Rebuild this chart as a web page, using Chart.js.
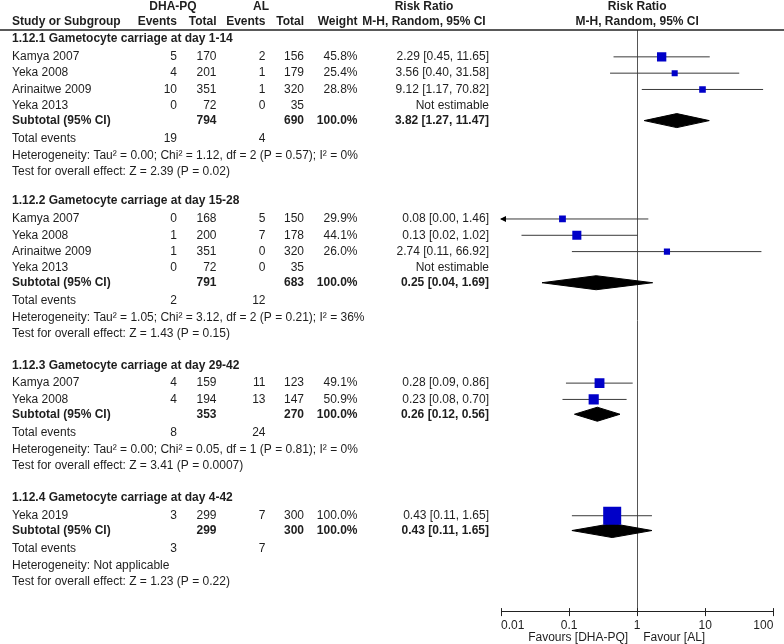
<!DOCTYPE html>
<html>
<head>
<meta charset="utf-8">
<script src="https://cdn.jsdelivr.net/npm/chart.js@4.4.1/dist/chart.umd.min.js"></script>
<style>
  body { margin: 0; background: #fff; }
  #wrap { width: 784px; height: 644px; position: relative; }
</style>
</head>
<body>
<div id="wrap"><canvas id="forest"></canvas></div>
<script>
// ----------- data -----------
const groupTitles = [
    '1.12.1 Gametocyte carriage at day 1-14',
    '1.12.2 Gametocyte carriage at day 15-28',
    '1.12.3 Gametocyte carriage at day 29-42',
    '1.12.4 Gametocyte carriage at day 4-42'
];
const studyGroup = [0, 0, 0, 0, 1, 1, 1, 1, 2, 2, 3];
const studyNames = ['Kamya 2007', 'Yeka 2008', 'Arinaitwe 2009', 'Yeka 2013',
                    'Kamya 2007', 'Yeka 2008', 'Arinaitwe 2009', 'Yeka 2013',
                    'Kamya 2007', 'Yeka 2008',
                    'Yeka 2019'];
const dhaEvents = [5, 4, 10, 0,   0, 1, 1, 0,   4, 4,   3];
const dhaTotal  = [170, 201, 351, 72,   168, 200, 351, 72,   159, 194,   299];
const alEvents  = [2, 1, 1, 0,   5, 7, 0, 0,   11, 13,   7];
const alTotal   = [156, 179, 320, 35,   150, 178, 320, 35,   123, 147,   300];
const weights   = [45.8, 25.4, 28.8, null,   29.9, 44.1, 26.0, null,   49.1, 50.9,   100.0];
const riskRatio = [2.29, 3.56, 9.12, null,   0.08, 0.13, 2.74, null,   0.28, 0.23,   0.43];
const ciLow     = [0.45, 0.40, 1.17, null,   0.00, 0.02, 0.11, null,   0.09, 0.08,   0.11];
const ciHigh    = [11.65, 31.58, 70.82, null,   1.46, 1.02, 66.92, null,   0.86, 0.70,   1.65];

const subDhaTotal = [794, 791, 353, 299];
const subAlTotal  = [690, 683, 270, 300];
const subRR       = [3.82, 0.25, 0.26, 0.43];
const subLow      = [1.27, 0.04, 0.12, 0.11];
const subHigh     = [11.47, 1.69, 0.56, 1.65];
const totalDha    = [19, 2, 8, 3];
const totalAl     = [4, 12, 24, 7];
const heterogeneity = [
    'Heterogeneity: Tau\u00b2 = 0.00; Chi\u00b2 = 1.12, df = 2 (P = 0.57); I\u00b2 = 0%',
    'Heterogeneity: Tau\u00b2 = 1.05; Chi\u00b2 = 3.12, df = 2 (P = 0.21); I\u00b2 = 36%',
    'Heterogeneity: Tau\u00b2 = 0.00; Chi\u00b2 = 0.05, df = 1 (P = 0.81); I\u00b2 = 0%',
    'Heterogeneity: Not applicable'
];
const overallTest = [
    'Test for overall effect: Z = 2.39 (P = 0.02)',
    'Test for overall effect: Z = 1.43 (P = 0.15)',
    'Test for overall effect: Z = 3.41 (P = 0.0007)',
    'Test for overall effect: Z = 1.23 (P = 0.22)'
];
const tickValues = [0.01, 0.1, 1, 10, 100];
const tickLabels = ['0.01', '0.1', '1', '10', '100'];

// ----------- layout (row positions in px) -----------
const groupTop = [39, 201, 365, 497.5];
const rows = { study: [], sub: [], total: [], het: [], test: [] };
groupTop.forEach((top, g) => {
    let y = top + 17.8;
    studyGroup.forEach((sg, i) => {
        if (sg === g) { rows.study[i] = y; y += 16.3; }
    });
    y = y - 16.3 + 14.8;
    rows.sub[g] = y;
    rows.total[g] = y + 18.4;
    rows.het[g] = y + 18.4 + 16.7;
    rows.test[g] = y + 18.4 + 16.7 + 16.3;
});

const X_MIN = 0.01, X_MAX = 100;
const fmt = v => v.toFixed(2);
const ciText = (r, l, h) => `${fmt(r)} [${fmt(l)}, ${fmt(h)}]`;

// ----------- datasets -----------
const squares = { data: [], radius: [] };
riskRatio.forEach((r, i) => {
    if (r === null) return;
    squares.data.push({ x: r, y: rows.study[i] });
    const side = 2 + 0.16 * weights[i];
    squares.radius.push(side / Math.SQRT2);
});

const datasets = [{
    label: 'study',
    data: squares.data,
    pointStyle: 'rect',
    pointRadius: squares.radius,
    backgroundColor: '#0000c8',
    borderWidth: 0,
    order: 0
}];

// diamonds for subtotals
subRR.forEach((r, g) => {
    const y = rows.sub[g];
    datasets.push({
        label: 'subtotal',
        data: [{ x: subLow[g], y: y }, { x: r, y: y - 7 }, { x: subHigh[g], y: y },
               { x: r, y: y + 7 }, { x: subLow[g], y: y }],
        showLine: true,
        fill: 'shape',
        borderColor: '#000',
        backgroundColor: '#000',
        borderWidth: 1,
        pointRadius: 0,
        order: 1
    });
});

// confidence interval whiskers
riskRatio.forEach((r, i) => {
    if (r === null) return;
    datasets.push({
        label: 'ci',
        data: [{ x: Math.max(ciLow[i], X_MIN), y: rows.study[i] },
               { x: Math.min(ciHigh[i], X_MAX), y: rows.study[i] }],
        showLine: true,
        borderColor: '#3a3a3a',
        borderWidth: 1,
        pointRadius: 0,
        order: 2
    });
});

// ----------- text table and extra lines -----------
const FONT = '"Liberation Sans", Arial, sans-serif';
const COL = { name: 12, ev1: 177, tot1: 216.5, ev2: 265.5, tot2: 304, weight: 357.5, rr: 489 };

const forestText = {
    id: 'forestText',
    beforeDatasetsDraw(chart) {
        const ctx = chart.ctx, xs = chart.scales.x, ys = chart.scales.y;
        const x1 = xs.getPixelForValue(1);
        ctx.save();
        ctx.strokeStyle = '#555';
        ctx.lineWidth = 1;
        ctx.beginPath();
        ctx.moveTo(Math.round(x1) + 0.5, ys.getPixelForValue(30));
        ctx.lineTo(Math.round(x1) + 0.5, chart.chartArea.bottom);
        ctx.stroke();
        ctx.restore();
    },
    afterDraw(chart) {
        const ctx = chart.ctx, xs = chart.scales.x, ys = chart.scales.y;
        const put = (s, x, y, align, bold) => {
            ctx.font = (bold ? 'bold ' : '') + '12px ' + FONT;
            ctx.textAlign = align;
            ctx.fillText(s, x, ys.getPixelForValue(y));
        };
        ctx.save();
        ctx.fillStyle = '#1e1e1e';
        ctx.textBaseline = 'middle';

        // header
        put('DHA-PQ', 173, 7, 'center', true);
        put('AL', 261, 7, 'center', true);
        put('Risk Ratio', 424, 7, 'center', true);
        put('Risk Ratio', xs.getPixelForValue(1), 7, 'center', true);
        put('Study or Subgroup', COL.name, 22, 'left', true);
        put('Events', COL.ev1, 22, 'right', true);
        put('Total', COL.tot1, 22, 'right', true);
        put('Events', COL.ev2, 22, 'right', true);
        put('Total', COL.tot2, 22, 'right', true);
        put('Weight', COL.weight, 22, 'right', true);
        put('M-H, Random, 95% CI', 424, 22, 'center', true);
        put('M-H, Random, 95% CI', xs.getPixelForValue(1), 22, 'center', true);

        ctx.strokeStyle = '#222';
        ctx.lineWidth = 1.5;
        ctx.beginPath();
        ctx.moveTo(0, ys.getPixelForValue(30));
        ctx.lineTo(784, ys.getPixelForValue(30));
        ctx.stroke();

        groupTitles.forEach((t, g) => put(t, COL.name, groupTop[g], 'left', true));

        studyNames.forEach((name, i) => {
            const y = rows.study[i];
            put(name, COL.name, y, 'left', false);
            put(String(dhaEvents[i]), COL.ev1, y, 'right', false);
            put(String(dhaTotal[i]), COL.tot1, y, 'right', false);
            put(String(alEvents[i]), COL.ev2, y, 'right', false);
            put(String(alTotal[i]), COL.tot2, y, 'right', false);
            if (weights[i] !== null) put(weights[i].toFixed(1) + '%', COL.weight, y, 'right', false);
            put(riskRatio[i] === null ? 'Not estimable' : ciText(riskRatio[i], ciLow[i], ciHigh[i]),
                COL.rr, y, 'right', false);
        });

        groupTitles.forEach((t, g) => {
            put('Subtotal (95% CI)', COL.name, rows.sub[g], 'left', true);
            put(String(subDhaTotal[g]), COL.tot1, rows.sub[g], 'right', true);
            put(String(subAlTotal[g]), COL.tot2, rows.sub[g], 'right', true);
            put('100.0%', COL.weight, rows.sub[g], 'right', true);
            put(ciText(subRR[g], subLow[g], subHigh[g]), COL.rr, rows.sub[g], 'right', true);
            put('Total events', COL.name, rows.total[g], 'left', false);
            put(String(totalDha[g]), COL.ev1, rows.total[g], 'right', false);
            put(String(totalAl[g]), COL.ev2, rows.total[g], 'right', false);
            put(heterogeneity[g], COL.name, rows.het[g], 'left', false);
            put(overallTest[g], COL.name, rows.test[g], 'left', false);
        });

        // arrows where the interval runs off the scale
        ctx.fillStyle = '#000';
        ciLow.forEach((lo, i) => {
            if (lo === null || lo >= X_MIN) return;
            const px = xs.getPixelForValue(X_MIN), py = ys.getPixelForValue(rows.study[i]);
            ctx.beginPath();
            ctx.moveTo(px - 1, py);
            ctx.lineTo(px + 5, py - 3);
            ctx.lineTo(px + 5, py + 3);
            ctx.closePath();
            ctx.fill();
        });

        // small upper part of the axis ticks
        const bottom = chart.chartArea.bottom;
        ctx.strokeStyle = '#222';
        ctx.lineWidth = 1;
        tickValues.forEach(v => {
            const px = Math.round(xs.getPixelForValue(v)) + 0.5;
            ctx.beginPath();
            ctx.moveTo(px, bottom - 3);
            ctx.lineTo(px, bottom);
            ctx.stroke();
        });

        ctx.fillStyle = '#1e1e1e';
        ctx.font = '12px ' + FONT;
        ctx.textAlign = 'right';
        ctx.fillText('Favours [DHA-PQ]', xs.getPixelForValue(1) - 9, 637.5);
        ctx.textAlign = 'left';
        ctx.fillText('Favour [AL]', xs.getPixelForValue(1) + 6, 637.5);
        ctx.restore();
    }
};

Chart.defaults.font.family = FONT;
Chart.defaults.font.size = 12;
Chart.defaults.color = '#1e1e1e';

new Chart(document.getElementById('forest'), {
    type: 'scatter',
    data: { datasets: datasets },
    options: {
        responsive: true,
        maintainAspectRatio: false,
        animation: false,
        events: [],
        layout: { autoPadding: false, padding: { left: 501, right: 10.7, top: 0, bottom: 9.5 } },
        plugins: { legend: { display: false }, tooltip: { enabled: false } },
        scales: {
            x: {
                type: 'logarithmic',
                min: X_MIN,
                max: X_MAX,
                afterBuildTicks: scale => { scale.ticks = tickValues.map(v => ({ value: v })); },
                ticks: {
                    align: 'inner',
                    autoSkip: false,
                    maxRotation: 0,
                    padding: 2,
                    color: '#1e1e1e',
                    callback: (value, index) => tickLabels[index]
                },
                grid: { drawOnChartArea: false, tickLength: 5, color: '#222' },
                border: { color: '#222' }
            },
            y: {
                type: 'linear',
                display: false,
                reverse: true,
                min: 0,
                max: 610.6
            }
        }
    },
    plugins: [forestText]
});
</script>
</body>
</html>
